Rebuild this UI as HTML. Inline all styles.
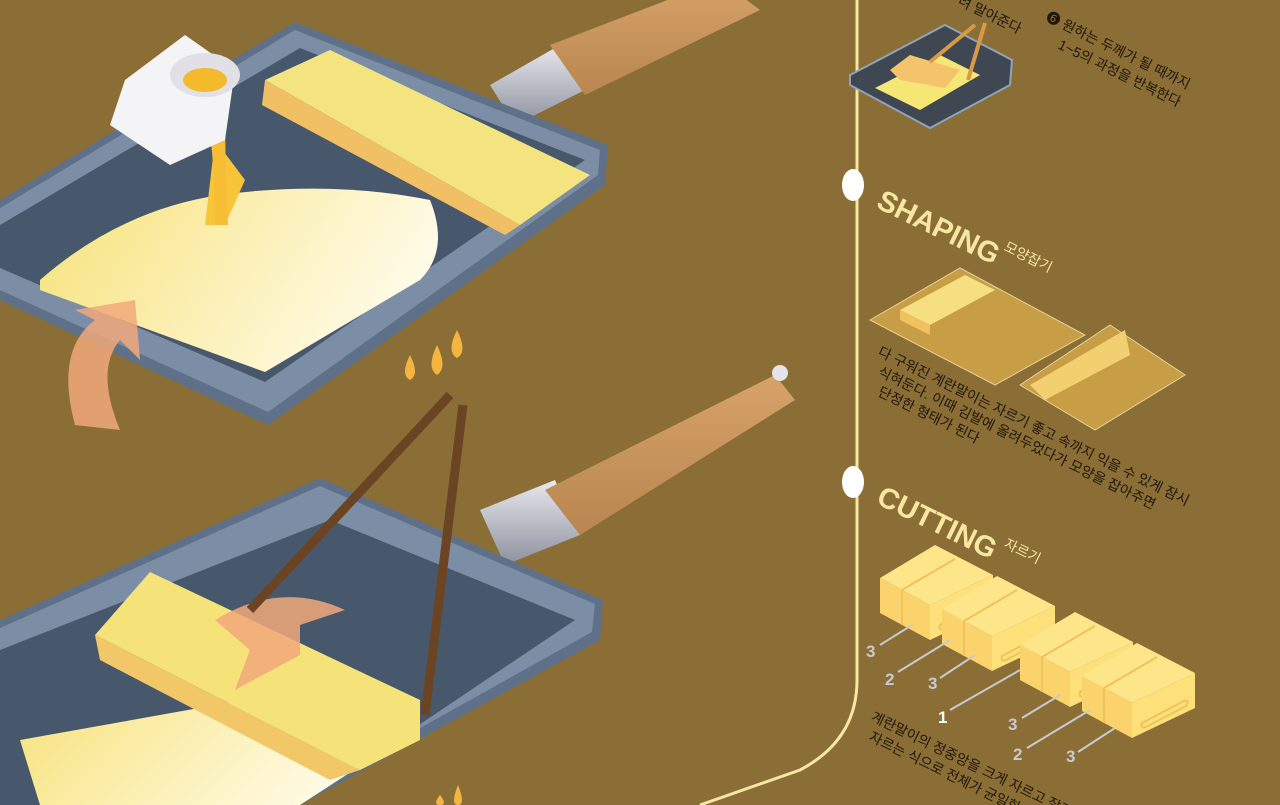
<!DOCTYPE html>
<html><head><meta charset="utf-8"><style>
html,body{margin:0;padding:0;background:#8a6e35;width:1280px;height:805px;overflow:hidden}
svg{display:block}
.k{font-family:"Liberation Sans","Noto Sans CJK KR",sans-serif;fill:#1e1608;font-size:14px}
.t{font-family:"Liberation Sans",sans-serif;font-weight:900;fill:#f7e7a0;font-size:29px}
.n{font-family:"Liberation Sans",sans-serif;font-weight:900;fill:#c9c9d2;font-size:17px}
</style></head><body>
<svg width="1280" height="805" viewBox="0 0 1280 805">
<defs>
<linearGradient id="egg" x1="0" y1="0" x2="1" y2="0.3"><stop offset="0" stop-color="#f7e27a"/><stop offset="1" stop-color="#fffbe6"/></linearGradient>
<linearGradient id="wood" x1="0" y1="0" x2="0" y2="1"><stop offset="0" stop-color="#d7a36a"/><stop offset="1" stop-color="#b98550"/></linearGradient>
<linearGradient id="metal" x1="0" y1="0" x2="0" y2="1"><stop offset="0" stop-color="#e8e8ee"/><stop offset="1" stop-color="#8d919e"/></linearGradient>
<g id="blk">
<polygon points="0,33 55,0 113,30 50,60" fill="#fde589"/>
<polygon points="0,33 50,60 50,95 0,68" fill="#fbd36c"/>
<polygon points="50,60 113,30 113,65 50,95" fill="#fee07a"/>
<path d="M22,45 L75,14 M22,45 L22,80" stroke="#f1c25a" stroke-width="2" fill="none"/>
<path d="M60,80 L102,58 Q108,56 104,63 L64,84 Q58,86 60,80 Z" fill="none" stroke="#f1c25a" stroke-width="2"/>
</g>
</defs>
<rect width="1280" height="805" fill="#8a6e35"/>
<!-- pan 1 handle -->
<polygon points="490,85 560,45 585,90 515,125" fill="url(#metal)"/>
<polygon points="550,45 720,-20 760,10 585,95" fill="url(#wood)"/>
<!-- pan 1 -->
<polygon points="0,200 295,22 608,145 605,185 268,425 0,300" fill="#5f7189"/>
<polygon points="0,208 295,30 600,150 598,175 268,412 0,290" fill="#7b8ea6"/>
<polygon points="0,225 300,48 585,160 265,382 0,268" fill="#48586c"/>
<path d="M40,280 Q120,210 220,195 Q330,180 430,200 Q450,250 420,280 L265,372 L40,290 Z" fill="url(#egg)"/>
<polygon points="265,80 330,50 590,175 520,225" fill="#f3e480"/>
<polygon points="265,80 520,225 505,235 262,105" fill="#f2c064"/>
<polygon points="225,225 245,180 215,140 205,225" fill="#f7c43a"/>
<path d="M205,105 Q215,150 215,225 L228,225 Q225,160 225,105 Z" fill="#f6be34"/>
<!-- cup -->
<path d="M125,80 L185,35 L235,70 L225,140 L170,165 L110,125 Z" fill="#f4f4f6"/>
<ellipse cx="205" cy="75" rx="35" ry="22" fill="#e0e0e6"/>
<ellipse cx="205" cy="80" rx="22" ry="12" fill="#f3bb2c"/>
<!-- arrow -->
<path d="M75,425 Q55,350 95,320 L75,310 L135,300 L140,360 L120,340 Q95,370 120,430 Z" fill="#f1a87a" opacity="0.85"/>
<!-- flames -->
<path d="M410,355 Q420,375 410,380 Q400,375 410,355Z M437,345 Q448,368 437,375 Q426,368 437,345Z M457,330 Q468,352 457,358 Q446,352 457,330Z" fill="#f3b440"/>
<path d="M440,795 Q448,805 440,805 Q432,805 440,795Z M458,785 Q466,805 458,805 Q450,805 458,785Z" fill="#f3b440"/>
<!-- pan 2 handle -->
<polygon points="480,510 555,480 580,535 505,565" fill="url(#metal)"/>
<polygon points="545,490 775,375 795,400 580,535" fill="url(#wood)"/>
<circle cx="780" cy="373" r="8" fill="#e4e4ea"/>
<!-- pan 2 -->
<polygon points="0,620 320,478 603,600 600,640 300,805 0,805" fill="#5f7189"/>
<polygon points="0,628 320,486 595,604 592,632 300,795 0,795" fill="#7b8ea6"/>
<polygon points="0,650 330,520 575,620 300,805 0,805" fill="#48586c"/>
<polygon points="20,740 300,690 400,740 300,805 40,805" fill="url(#egg)"/>
<polygon points="95,635 150,572 420,700 420,740 360,770" fill="#f5e37a"/>
<polygon points="95,635 360,770 330,780 100,660" fill="#f1c767"/>
<path d="M215,620 Q280,580 345,610 L300,625 L300,655 L235,690 L250,650 Z" fill="#f1a87a" opacity="0.85"/>
<line x1="250" y1="610" x2="450" y2="395" stroke="#6b4423" stroke-width="9"/>
<line x1="425" y1="715" x2="463" y2="405" stroke="#6b4423" stroke-width="9"/>
<!-- timeline -->
<path d="M857,0 L857,680 Q857,740 800,770 L700,805" fill="none" stroke="#f7e7a0" stroke-width="3"/>
<ellipse cx="853" cy="185" rx="11" ry="16" fill="#fff"/>
<ellipse cx="853" cy="482" rx="11" ry="16" fill="#fff"/>
<!-- small pan top -->
<polygon points="850,75 945,25 1012,60 1010,85 930,128 850,85" fill="#3f4753" stroke="#8fa3bb" stroke-width="2"/>
<polygon points="875,88 940,55 980,75 920,110" fill="#f5e676"/>
<polygon points="890,70 910,55 960,70 945,88 900,80" fill="#f4c46d"/>
<line x1="930" y1="62" x2="975" y2="25" stroke="#d99a45" stroke-width="4"/>
<line x1="968" y1="80" x2="985" y2="23" stroke="#d99a45" stroke-width="4"/>
<text class="k" transform="translate(957,4) rotate(26)">려 말아준다</text>
<text class="k" transform="translate(1045,20) rotate(26)">❻ 원하는 두께가 될 때까지</text>
<text class="k" transform="translate(1057,48) rotate(26)">1~5의 과정을 반복한다</text>
<!-- SHAPING -->
<text class="t" transform="translate(875,207) rotate(26)">SHAPING</text>
<text class="k" transform="translate(1003,250) rotate(26)" style="fill:#f7e7a0">모양잡기</text>
<polygon points="870,320 960,268 1085,335 995,385" fill="#c79e45" stroke="#e6d29a" stroke-width="1"/>
<polygon points="900,310 965,275 995,290 930,325" fill="#f5df80"/>
<polygon points="900,310 930,325 930,335 900,320" fill="#f1c060"/>
<polygon points="1020,385 1110,325 1185,375 1095,430" fill="#c79e45" stroke="#e6d29a" stroke-width="1"/>
<polygon points="1030,385 1125,330 1130,355 1045,400" fill="#f2d070"/>
<text class="k" transform="translate(877,355) rotate(26)">다 구워진 계란말이는 자르기 좋고 속까지 익을 수 있게 잠시</text>
<text class="k" transform="translate(877,375) rotate(26)">식혀둔다. 이때 김발에 올려두었다가 모양을 잡아주면</text>
<text class="k" transform="translate(877,395) rotate(26)">단정한 형태가 된다</text>
<!-- CUTTING -->
<text class="t" transform="translate(875,503) rotate(26)">CUTTING</text>
<text class="k" transform="translate(1003,547) rotate(26)" style="fill:#f7e7a0">자르기</text>
<use href="#blk" x="880" y="545"/>
<use href="#blk" x="942" y="576"/>
<use href="#blk" x="1020" y="612"/>
<use href="#blk" x="1082" y="643"/>
<g stroke="#c9c9d2" stroke-width="2"><line x1="880" y1="645" x2="912" y2="625"/><line x1="898" y1="672" x2="950" y2="640"/><line x1="940" y1="678" x2="975" y2="655"/><line x1="950" y1="710" x2="1020" y2="670"/><line x1="1022" y1="718" x2="1060" y2="695"/><line x1="1027" y1="748" x2="1090" y2="710"/><line x1="1078" y1="752" x2="1115" y2="728"/></g>
<text class="n" x="866" y="657">3</text><text class="n" x="885" y="685">2</text><text class="n" x="928" y="689">3</text>
<text class="n" x="938" y="723" style="fill:#fff">1</text><text class="n" x="1008" y="730">3</text><text class="n" x="1013" y="760">2</text><text class="n" x="1066" y="762">3</text>
<text class="k" transform="translate(870,720) rotate(26)">계란말이의 정중앙을 크게 자르고 잘린 토막을</text>
<text class="k" transform="translate(868,740) rotate(26)">자르는 식으로 전체가 균일한 두께가 되도록</text>
</svg>
</body></html>
